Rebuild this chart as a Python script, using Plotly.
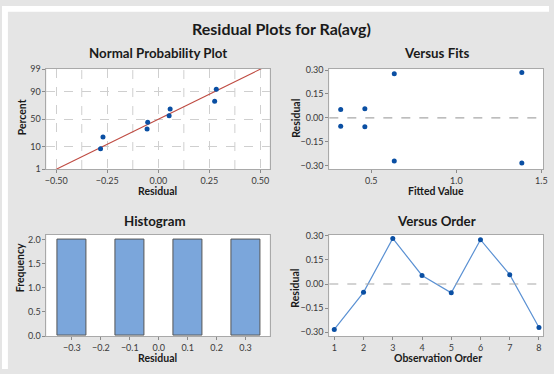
import plotly.graph_objects as go
from statistics import NormalDist, mean, stdev

# ---- data ----
observation = [1, 2, 3, 4, 5, 6, 7, 8]
residuals = [-0.283, -0.052, 0.284, 0.053, -0.055, 0.276, 0.058, -0.271]
fitted = [1.385, 0.32, 1.385, 0.32, 0.462, 0.635, 0.462, 0.635]
pct_ticks = [1, 10, 50, 90, 99]
hist_bin_start, hist_bin_end, hist_bin_size = -0.35, 0.35, 0.1

W, H = 554, 374
nd = NormalDist()

def px_x(a, b):
    return [a / W, b / W]

def px_y(top, bottom):
    return [1 - bottom / H, 1 - top / H]

# normal probability values (Benard median ranks)
srt = sorted(residuals)
n = len(srt)
pcts = [(i + 1 - 0.3) / (n + 0.4) for i in range(n)]
zvals = [nd.inv_cdf(p) for p in pcts]
mu, sd = mean(residuals), stdev(residuals)
line_x = [-0.6, 0.6]
line_z = [(x - mu) / sd for x in line_x]

blue = "#0A4FA3"
FONT = "Lato"
tickfont = dict(family=FONT, size=9, color="#3a3a3a")
frame = "#A9A9A9"

fig = go.Figure()

# Normal probability plot
fig.add_trace(go.Scatter(x=line_x, y=line_z, mode="lines",
                         line=dict(color="#BF4B42", width=1.1),
                         xaxis="x", yaxis="y", showlegend=False))
fig.add_trace(go.Scatter(x=srt, y=zvals, mode="markers",
                         marker=dict(color=blue, size=5),
                         xaxis="x", yaxis="y", showlegend=False))
# Versus fits
fig.add_trace(go.Scatter(x=fitted, y=residuals, mode="markers",
                         marker=dict(color=blue, size=5),
                         xaxis="x2", yaxis="y2", showlegend=False))
# Histogram
fig.add_trace(go.Histogram(x=residuals,
                           xbins=dict(start=hist_bin_start, end=hist_bin_end, size=hist_bin_size),
                           marker=dict(color="#7BA6DB", line=dict(color="#555555", width=1)),
                           xaxis="x3", yaxis="y3", showlegend=False))
# Versus order
fig.add_trace(go.Scatter(x=observation, y=residuals, mode="lines+markers",
                         line=dict(color="#5B91D3", width=1.2),
                         marker=dict(color=blue, size=5),
                         xaxis="x4", yaxis="y4", showlegend=False))

common = dict(showline=True, mirror=True, linecolor=frame, linewidth=1,
              ticks="outside", ticklen=3, tickcolor="#8a8a8a", tickfont=tickfont,
              zeroline=False, showgrid=False)

def ax(**kw):
    d = dict(common)
    d.update(kw)
    return d

grid_dash = dict(showgrid=True, gridcolor="#CFCFCF", griddash="dash", gridwidth=1)

top_dom = px_y(65, 168)
bot_dom = px_y(235.5, 340)
left_dom = px_x(45, 271)
right_dom = px_x(331.5, 548)

fig.update_layout(
    width=W, height=H,
    margin=dict(l=0, r=0, t=0, b=0),
    paper_bgcolor="#E5E5E5", plot_bgcolor="white",
    bargap=0,
    xaxis=ax(domain=left_dom, anchor="y", range=[-0.548, 0.545],
             tickvals=[-0.5, -0.25, 0, 0.25, 0.5], tickformat=".2f", **grid_dash),
    yaxis=ax(domain=top_dom, anchor="x", range=[nd.inv_cdf(0.01), nd.inv_cdf(0.99)],
             tickvals=[nd.inv_cdf(p / 100) for p in pct_ticks],
             ticktext=[str(p) for p in pct_ticks], **grid_dash),
    xaxis2=ax(domain=right_dom, anchor="y2", range=[0.253, 1.51],
              tickvals=[0.5, 1.0, 1.5], tickformat=".1f"),
    yaxis2=ax(domain=top_dom, anchor="x2", range=[-0.321, 0.306],
              tickvals=[-0.30, -0.15, 0.0, 0.15, 0.30], tickformat=".2f"),
    xaxis3=ax(domain=left_dom, anchor="y3", range=[-0.388, 0.383],
              tickvals=[-0.3, -0.2, -0.1, 0.0, 0.1, 0.2, 0.3], tickformat=".1f"),
    yaxis3=ax(domain=bot_dom, anchor="x3", range=[0, 2.1],
              tickvals=[0, 0.5, 1.0, 1.5, 2.0], tickformat=".1f"),
    xaxis4=ax(domain=right_dom, anchor="y4", range=[0.83, 8.14],
              tickvals=observation),
    yaxis4=ax(domain=bot_dom, anchor="x4", range=[-0.324, 0.308],
              tickvals=[-0.30, -0.15, 0.0, 0.15, 0.30], tickformat=".2f"),
)

fig.add_shape(type="line", xref="x2 domain", yref="y2", x0=0, x1=1, y0=0, y1=0,
              line=dict(color="#A8A8A8", width=1.2, dash="dash"))
fig.add_shape(type="line", xref="x4 domain", yref="y4", x0=0, x1=1, y0=0, y1=0,
              line=dict(color="#A8A8A8", width=1.2, dash="dash"))
# extra vertical dashed grid lines (between labelled ticks) in the normal plot
for gx in [-0.375, -0.125, 0.125, 0.375]:
    fig.add_shape(type="line", xref="x", yref="y domain", x0=gx, x1=gx, y0=0, y1=1,
                  line=dict(color="#CFCFCF", width=1, dash="dash"), layer="below")

# white border strips outside the grey panel
fig.add_shape(type="rect", xref="paper", yref="paper", x0=0, x1=1, y0=1 - 6 / H, y1=1,
              fillcolor="white", line=dict(width=0), layer="below")
fig.add_shape(type="rect", xref="paper", yref="paper", x0=0, x1=6 / W, y0=0, y1=1,
              fillcolor="white", line=dict(width=0), layer="below")

def ann(text, x, y, size, angle=0):
    fig.add_annotation(text=f"<b>{text}</b>", x=x / W, y=1 - y / H, xref="paper", yref="paper",
                       showarrow=False, textangle=angle, xanchor="center", yanchor="middle",
                       font=dict(family=FONT, size=size, color="#1a1a1a"))

ann("Residual Plots for Ra(avg)", 283, 23, 16)
ann("Normal Probability Plot", 158, 48, 13.3)
ann("Versus Fits", 440.5, 48, 13.3)
ann("Histogram", 155, 221.5, 13.3)
ann("Versus Order", 440.5, 221, 13.3)
ann("Residual", 157, 191, 10.5)
ann("Fitted Value", 440, 191, 10.5)
ann("Residual", 157, 363, 10.5)
ann("Observation Order", 441.5, 363, 10.5)
ann("Percent", 20, 115, 10.5, -90)
ann("Frequency", 18.5, 270, 10.5, -90)
ann("Residual", 297, 116, 10.5, -90)
ann("Residual", 297, 291, 10.5, -90)

fig.write_html("out.html", config={"displayModeBar": False},
               post_script="document.body.style.margin='0';document.body.style.overflow='hidden';")
